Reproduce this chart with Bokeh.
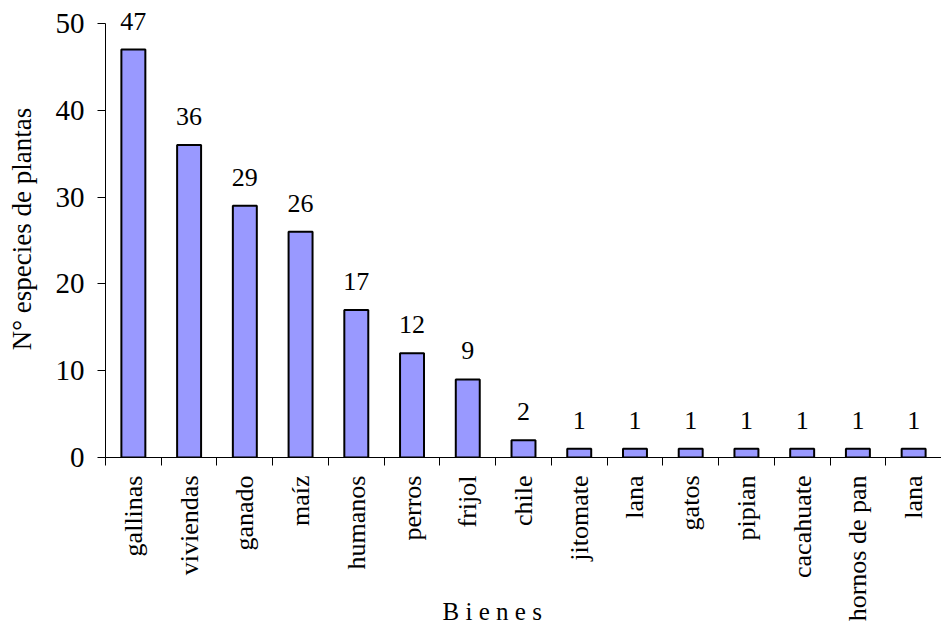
import math
from bokeh.plotting import figure
from bokeh.models import (ColumnDataSource, Range1d, FixedTicker, CustomJSTickFormatter,
                          LabelSet)
from bokeh.embed import file_html
from bokeh.resources import INLINE

categories = ["gallinas", "viviendas", "ganado", "maíz", "humanos", "perros", "frijol",
              "chile", "jitomate", "lana", "gatos", "pipian", "cacahuate", "hornos de pan", "lana"]
values = [47, 36, 29, 26, 17, 12, 9, 2, 1, 1, 1, 1, 1, 1, 1]
y_ticks = [0, 10, 20, 30, 40, 50]
y_title = "N° especies de plantas"
x_title = "B i e n e s"

FONT = "Liberation Serif"
n = len(categories)
positions = [i + 0.5 for i in range(n)]

src = ColumnDataSource(dict(x=positions, top=values, label=[str(v) for v in values]))

p = figure(width=941, height=634, output_backend="svg", toolbar_location=None,
           x_range=Range1d(0, n), y_range=Range1d(0, 52.65),
           min_border_left=105, min_border_right=0, min_border_top=0, min_border_bottom=177)
p.outline_line_color = None
p.xgrid.grid_line_color = None
p.ygrid.grid_line_color = None
p.background_fill_color = "white"

p.vbar(x="x", top="top", width=0.43, bottom=0, source=src,
       fill_color="#9999FF", line_color="black", line_width=2)

labels = LabelSet(x="x", y="top", text="label", source=src, y_offset=20,
                  text_align="center", text_baseline="alphabetic",
                  text_font=FONT, text_font_size="26px", text_color="black")
p.add_layout(labels)

ya = p.yaxis[0]
ya.ticker = FixedTicker(ticks=y_ticks)
ya.bounds = (0, 50)
ya.axis_line_color = "black"
ya.major_tick_line_color = "black"
ya.major_tick_out = 8
ya.major_tick_in = 0
ya.minor_tick_line_color = None
ya.major_label_standoff = 13
ya.major_label_text_font = FONT
ya.major_label_text_font_size = "29px"
ya.major_label_text_color = "black"
ya.axis_label = y_title
ya.axis_label_text_font = FONT
ya.axis_label_text_font_size = "27px"
ya.axis_label_text_font_style = "normal"
ya.axis_label_text_color = "black"
ya.axis_label_standoff = 16

xa = p.xaxis[0]
xa.ticker = FixedTicker(ticks=positions, minor_ticks=list(range(n + 1)))
xa.formatter = CustomJSTickFormatter(args=dict(names=categories),
                                     code="return names[Math.floor(tick)];")
xa.axis_line_color = "black"
xa.major_tick_line_color = None
xa.major_tick_out = 8
xa.major_tick_in = 0
xa.minor_tick_line_color = "black"
xa.minor_tick_out = 8
xa.minor_tick_in = 0
xa.major_label_orientation = math.pi / 2
xa.major_label_standoff = 10
xa.major_label_text_font = FONT
xa.major_label_text_font_size = "26px"
xa.major_label_text_color = "black"
# axis title: pulled up beside the short labels, padded so it sits left of centre
xa.axis_label = x_title + "\u00a0" * 10
xa.axis_label_text_font = FONT
xa.axis_label_text_font_size = "25px"
xa.axis_label_text_font_style = "normal"
xa.axis_label_text_color = "black"
xa.axis_label_standoff = -26

open("out.html", "w").write(file_html(p, INLINE))
